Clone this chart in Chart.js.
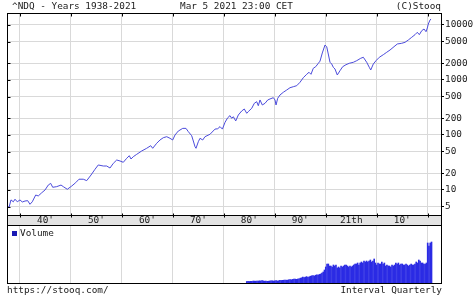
<!DOCTYPE html>
<html>
<head>
<meta charset="utf-8">
<title>^NDQ - Years 1938-2021</title>
<script src="https://cdn.jsdelivr.net/npm/chart.js@4.4.1/dist/chart.umd.min.js"></script>
<style>
  html, body { margin: 0; padding: 0; background: #fff; }
  #wrap {
    position: relative; width: 474px; height: 296px; overflow: hidden;
    font-family: 'DejaVu Sans Mono', monospace; font-size: 9.4px; color: #222;
  }
  #wrap canvas { position: absolute; left: 0; top: 0; }
  .txt { position: absolute; white-space: pre; line-height: 10px; }
</style>
</head>
<body>
<div id="wrap">
  <canvas id="mainChart" width="474" height="296"></canvas>
  <canvas id="volChart" width="474" height="296"></canvas>
  <div class="txt" style="left:12px; top:1px">^NDQ - Years 1938-2021</div>
  <div class="txt" style="left:180px; top:1px">Mar 5 2021 23:00 CET</div>
  <div class="txt" style="right:33px; top:1px">(C)Stooq</div>
  <div class="txt" style="left:7px; top:285px">https://stooq.com/</div>
  <div class="txt" style="right:32px; top:285px">Interval Quarterly</div>
</div>
<script>
// --- data ---
const lineYears = [
  1937.59, 1937.84, 1938.23, 1938.69, 1939.02, 1939.47, 1940.00, 1940.45, 1940.98, 1941.51,
  1941.96, 1942.41, 1943.08, 1943.59, 1944.26, 1944.91, 1945.55, 1946.02, 1946.42, 1947.20,
  1948.05, 1948.50, 1949.28, 1950.15, 1950.93, 1951.58, 1952.42, 1953.09, 1953.93, 1954.72,
  1955.36, 1956.35, 1957.01, 1957.66, 1958.31, 1958.98, 1959.62, 1960.27, 1960.94, 1961.45,
  1961.78, 1962.23, 1962.90, 1963.88, 1964.86, 1965.65, 1966.04, 1966.82, 1967.47, 1968.12,
  1968.79, 1969.43, 1969.96, 1970.42, 1971.06, 1971.93, 1972.57, 1973.03, 1973.69, 1974.01,
  1974.34, 1974.54, 1974.99, 1975.32, 1975.85, 1976.30, 1977.28, 1978.27, 1978.80, 1979.25,
  1979.72, 1980.23, 1980.76, 1981.21, 1981.54, 1981.86, 1982.33, 1982.84, 1983.50, 1984.01,
  1984.49, 1984.80, 1985.47, 1985.98, 1986.45, 1986.76, 1987.10, 1987.55, 1988.08, 1988.61,
  1989.06, 1989.71, 1990.04, 1990.24, 1990.57, 1991.02, 1991.67, 1992.34, 1992.98, 1993.63,
  1994.30, 1994.94, 1995.59, 1996.26, 1996.71, 1997.10, 1997.55, 1998.03, 1998.54, 1998.87,
  1999.32, 1999.85, 2000.18, 2000.49, 2000.83, 2001.16, 2001.48, 2001.81, 2002.26, 2002.79,
  2003.32, 2003.97, 2004.62, 2005.41, 2006.07, 2006.86, 2007.37, 2008.03, 2008.54, 2008.82,
  2009.33, 2009.86, 2010.51, 2011.29, 2011.96, 2012.61, 2013.39, 2014.04, 2014.90, 2015.55,
  2016.20, 2016.86, 2017.51, 2017.96, 2018.36, 2018.83, 2019.28, 2019.67, 2019.93, 2020.12,
  2020.46, 2020.66
];
const lineValues = [
  5.1, 4.8, 6.6, 6.1, 6.8, 6.1, 6.6, 6.05, 6.3, 6.4,
  5.5, 6.1, 8.1, 7.8, 8.9, 10.0, 12.3, 13.2, 11.2, 11.5,
  12.3, 11.5, 10.3, 11.8, 13.6, 15.7, 15.7, 14.8, 18.7, 23.8,
  28.5, 27.3, 27.3, 25.1, 30.5, 35.1, 33.7, 31.9, 37.7, 42.0,
  36.6, 40.3, 44.5, 51.2, 57.3, 63.9, 57.3, 70.6, 81.1, 89.3,
  93.1, 87.1, 81.1, 100, 118, 132, 132, 115, 97, 77.8,
  61.2, 57.3, 75.5, 87.1, 81.1, 93.1, 103, 128, 130, 142,
  128, 170, 206, 225, 201, 215, 180, 231, 273, 297,
  248, 266, 306, 377, 403, 341, 433, 351, 377, 433,
  452, 477, 433, 351, 465, 534, 598, 658, 724, 755,
  788, 908, 1101, 1270, 1381, 1270, 1633, 1746, 2013, 2200,
  3100, 4325, 4030, 2972, 2099, 1954, 1701, 1585, 1233, 1476,
  1746, 1898, 2013, 2099, 2245, 2483, 2588, 2099, 1701, 1520,
  1954, 2245, 2588, 2884, 3191, 3511, 4030, 4517, 4649, 4845,
  5336, 5970, 6664, 7369, 6664, 7873, 8453, 7548, 8817, 10420,
  12330, 12860
];

const volQuarters = [
  '1984Q3','1984Q4',
  '1985Q1','1985Q2','1985Q3','1985Q4', '1986Q1','1986Q2','1986Q3','1986Q4',
  '1987Q1','1987Q2','1987Q3','1987Q4', '1988Q1','1988Q2','1988Q3','1988Q4',
  '1989Q1','1989Q2','1989Q3','1989Q4', '1990Q1','1990Q2','1990Q3','1990Q4',
  '1991Q1','1991Q2','1991Q3','1991Q4', '1992Q1','1992Q2','1992Q3','1992Q4',
  '1993Q1','1993Q2','1993Q3','1993Q4', '1994Q1','1994Q2','1994Q3','1994Q4',
  '1995Q1','1995Q2','1995Q3','1995Q4', '1996Q1','1996Q2','1996Q3','1996Q4',
  '1997Q1','1997Q2','1997Q3','1997Q4', '1998Q1','1998Q2','1998Q3','1998Q4',
  '1999Q1','1999Q2','1999Q3','1999Q4', '2000Q1','2000Q2','2000Q3','2000Q4',
  '2001Q1','2001Q2','2001Q3','2001Q4', '2002Q1','2002Q2','2002Q3','2002Q4',
  '2003Q1','2003Q2','2003Q3','2003Q4', '2004Q1','2004Q2','2004Q3','2004Q4',
  '2005Q1','2005Q2','2005Q3','2005Q4', '2006Q1','2006Q2','2006Q3','2006Q4',
  '2007Q1','2007Q2','2007Q3','2007Q4', '2008Q1','2008Q2','2008Q3','2008Q4',
  '2009Q1','2009Q2','2009Q3','2009Q4', '2010Q1','2010Q2','2010Q3','2010Q4',
  '2011Q1','2011Q2','2011Q3','2011Q4', '2012Q1','2012Q2','2012Q3','2012Q4',
  '2013Q1','2013Q2','2013Q3','2013Q4', '2014Q1','2014Q2','2014Q3','2014Q4',
  '2015Q1','2015Q2','2015Q3','2015Q4', '2016Q1','2016Q2','2016Q3','2016Q4',
  '2017Q1','2017Q2','2017Q3','2017Q4', '2018Q1','2018Q2','2018Q3','2018Q4',
  '2019Q1','2019Q2','2019Q3','2019Q4', '2020Q1','2020Q2','2020Q3','2020Q4'
];
const volValues = [
  1.5, 1.6,
  1.5, 1.7, 1.6, 1.8,  1.9, 1.8, 2.0, 1.9,
  2.2, 2.0, 2.4, 2.1,  1.8, 1.9, 1.7, 1.8,
  2.0, 2.1, 2.2, 2.0,  2.1, 2.3, 2.0, 2.2,
  2.6, 2.5, 2.7, 2.8,  3.0, 2.8, 2.9, 3.2,
  3.4, 3.2, 3.6, 3.8,  3.9, 3.7, 4.0, 4.2,
  4.8, 5.2, 5.8, 5.5,  5.9, 6.4, 5.7, 6.2,
  6.8, 7.2, 7.5, 7.0,  7.8, 8.2, 8.0, 8.6,
  9.0, 10, 11, 13,     16, 19, 19, 17,
  17, 16, 18, 17,      18, 15, 16, 15,
  17, 16, 17, 18,      18, 17, 16, 17,
  16, 17, 18, 19,      19, 20, 18, 20,
  21, 20, 22, 21,      22, 21, 22, 23,
  21, 22, 24, 20,      18, 20, 19, 19,
  21, 19, 20, 17,      18, 17, 17, 16,
  18, 17, 18, 20,      19, 20, 18, 19,
  19, 18, 18, 19,      18, 17, 18, 19,
  18, 18, 19, 21,      20, 23, 22, 20,
  20, 19, 19, 20,      40, 37, 40, 41
];
const volMax = 58;

const decadeYears = [1940, 1950, 1960, 1970, 1980, 1990, 2000, 2010, 2020];
const labelYears = [1945, 1955, 1965, 1975, 1985, 1995, 2005, 2015];
const xTickLabels = ["40'", "50'", "60'", "70'", "80'", "90'", "21th", "10'"];
const yTickValues = [5, 10, 20, 50, 100, 200, 500, 1000, 2000, 5000, 10000];
const yTickLabels = ['5', '10', '20', '50', '100', '200', '500', '1000', '2000', '5000', '10000'];

const xMin = 1937.45, xMax = 2022.61;
const yMin = 3.51, yMax = 16520;

// --- styles ---
const FONT = "'DejaVu Sans Mono', monospace";
const GRID = '#d9d9d9';
Chart.defaults.font.family = FONT;
Chart.defaults.font.size = 9.4;
Chart.defaults.color = '#222';

const allXTicks = [...decadeYears, ...labelYears].sort((a, b) => a - b);
const isDecade = v => decadeYears.includes(v);

function quarterToYear(q) {
  const yr = parseInt(q.slice(0, 4), 10);
  const n = parseInt(q.slice(5), 10);
  return yr + (n - 1) / 4;
}

// white background, grey label band, frame, small inner ticks
const mainFrame = {
  id: 'mainFrame',
  beforeDraw(chart) {
    const { ctx, chartArea: a, scales } = chart;
    ctx.save();
    ctx.fillStyle = '#fff';
    ctx.fillRect(0, 0, chart.width, chart.height);
    ctx.fillStyle = '#e3e3e3';
    ctx.fillRect(a.left, scales.x.top, a.right - a.left, scales.x.bottom - scales.x.top);
    ctx.restore();
  },
  afterDraw(chart) {
    const { ctx, chartArea: a, scales } = chart;
    const l = Math.round(a.left) + 0.5, r = Math.round(a.right) + 0.5;
    const t = Math.round(a.top) + 0.5, b = Math.round(a.bottom) + 0.5;
    const bb = Math.round(scales.x.bottom) + 0.5;
    ctx.save();
    ctx.strokeStyle = '#000';
    ctx.lineWidth = 1;
    ctx.strokeRect(l, t, r - l, b - t);
    ctx.beginPath();
    ctx.moveTo(l, b); ctx.lineTo(l, bb);
    ctx.moveTo(r, b); ctx.lineTo(r, bb);
    decadeYears.forEach(yr => {
      const px = Math.round(scales.x.getPixelForValue(yr)) + 0.5;
      ctx.moveTo(px, t); ctx.lineTo(px, t + 3);
      ctx.moveTo(px, b - 2); ctx.lineTo(px, b + 2);
    });
    yTickValues.forEach(v => {
      const py = Math.round(scales.y.getPixelForValue(v)) + 0.5;
      ctx.moveTo(l, py); ctx.lineTo(l + 3, py);
    });
    ctx.stroke();
    ctx.restore();
  }
};

const volFrame = {
  id: 'volFrame',
  afterDraw(chart) {
    const { ctx, chartArea: a } = chart;
    const l = Math.round(a.left) + 0.5, r = Math.round(a.right) + 0.5;
    const t = Math.round(a.top) + 0.5, b = Math.round(a.bottom) + 0.5;
    ctx.save();
    ctx.strokeStyle = '#000';
    ctx.lineWidth = 1;
    ctx.strokeRect(l, t, r - l, b - t);
    // legend
    ctx.fillStyle = '#1a1ab4';
    ctx.fillRect(a.left + 5, a.top + 6, 5, 5);
    ctx.fillStyle = '#222';
    ctx.font = '9.4px ' + FONT;
    ctx.textBaseline = 'middle';
    ctx.fillText('Volume', a.left + 13, a.top + 9);
    ctx.restore();
  }
};

new Chart(document.getElementById('mainChart'), {
  type: 'line',
  data: {
    datasets: [{
      label: '^NDQ',
      data: lineYears.map((yr, i) => ({ x: yr, y: lineValues[i] })),
      borderColor: '#4c4cdc',
      borderWidth: 1,
      pointRadius: 0,
      tension: 0,
      fill: false
    }]
  },
  options: {
    responsive: false,
    animation: false,
    devicePixelRatio: 1,
    layout: { padding: { left: 7, right: 0, top: 13, bottom: 71 } },
    plugins: { legend: { display: false }, tooltip: { enabled: false } },
    scales: {
      x: {
        type: 'linear',
        min: xMin,
        max: xMax,
        offset: false,
        afterBuildTicks: s => { s.ticks = allXTicks.map(v => ({ value: v })); },
        afterFit: s => { s.height = 10; },
        grid: {
          color: c => (c.tick && isDecade(c.tick.value)) ? GRID : 'rgba(0,0,0,0)',
          drawTicks: false
        },
        border: { display: false },
        ticks: {
          autoSkip: false,
          maxRotation: 0,
          padding: 1,
          font: { size: 9.4, lineHeight: 1 },
          callback: v => {
            const i = labelYears.indexOf(v);
            return i >= 0 ? xTickLabels[i] : '';
          }
        }
      },
      y: {
        type: 'logarithmic',
        position: 'right',
        min: yMin,
        max: yMax,
        afterBuildTicks: s => { s.ticks = yTickValues.map(v => ({ value: v })); },
        afterFit: s => { s.width = 33; },
        grid: { color: GRID, tickColor: '#000', tickLength: 3 },
        border: { display: false },
        ticks: {
          padding: 1,
          font: { size: 9.4, lineHeight: 1 },
          callback: v => {
            const i = yTickValues.indexOf(v);
            return i >= 0 ? yTickLabels[i] : '';
          }
        }
      }
    }
  },
  plugins: [mainFrame]
});

new Chart(document.getElementById('volChart'), {
  type: 'bar',
  data: {
    datasets: [{
      label: 'Volume',
      data: volQuarters.map((q, i) => ({ x: quarterToYear(q), y: volValues[i] })),
      backgroundColor: '#2b2be4',
      borderWidth: 0,
      barThickness: 1
    }]
  },
  options: {
    responsive: false,
    animation: false,
    devicePixelRatio: 1,
    layout: { padding: { left: 7, right: 33, top: 225, bottom: 13 } },
    plugins: { legend: { display: false }, tooltip: { enabled: false } },
    scales: {
      x: {
        type: 'linear',
        min: xMin,
        max: xMax,
        offset: false,
        afterBuildTicks: s => { s.ticks = decadeYears.map(v => ({ value: v })); },
        afterFit: s => { s.height = 0; },
        grid: { color: GRID, drawTicks: false, offset: false },
        border: { display: false },
        ticks: { display: false }
      },
      y: { display: false, min: 0, max: volMax }
    }
  },
  plugins: [volFrame]
});
</script>
</body>
</html>
